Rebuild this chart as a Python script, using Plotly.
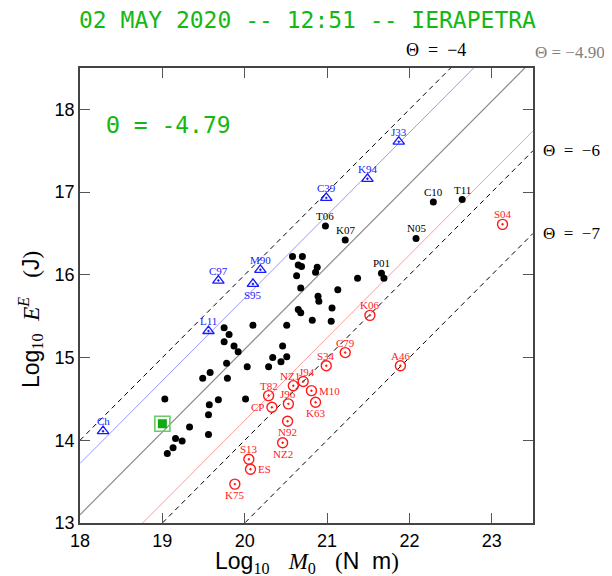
import plotly.graph_objects as go

# ---------------- data ----------------
X_RANGE = [18, 23.5]
Y_RANGE = [13, 18.5]
X_TICKS = [18, 19, 20, 21, 22, 23]
Y_TICKS = [13, 14, 15, 16, 17, 18]

# reference lines: Log10 E = Log10 M0 + Theta
THETA_DASHED = [-4, -6, -7]
THETA_BLUE = -4.28
THETA_GRAY = -4.90
THETA_RED = -5.76

# black events (name '' = unlabeled)
blk_x = [20.58, 20.70, 20.65, 20.69, 20.63, 20.68, 20.65, 20.68, 20.10, 20.51,
         19.75, 19.81, 19.75, 19.87, 19.92, 20.46, 20.34, 20.51, 20.44, 19.78,
         20.03, 20.29, 19.58, 19.49, 19.79, 19.03, 19.68, 20.01, 19.57, 19.56,
         19.33, 19.16, 19.24, 19.56, 19.13, 19.06, 20.88, 20.86, 21.37, 21.13,
         20.89, 20.90, 21.06, 20.82, 21.05, 21.69,
         21.66, 22.29, 22.64, 20.98, 21.22, 22.08]
blk_y = [16.22, 16.22, 16.12, 16.10, 15.99, 15.84, 15.58, 15.54, 15.39, 15.39,
         15.36, 15.28, 15.19, 15.14, 15.07, 15.14, 15.00, 15.01, 14.95, 14.93,
         14.89, 14.89, 14.82, 14.75, 14.75, 14.50, 14.49, 14.50, 14.43, 14.31,
         14.16, 14.02, 13.99, 14.07, 13.91, 13.84, 16.09, 16.03, 15.96, 15.82,
         15.74, 15.68, 15.60, 15.45, 15.44, 15.96,
         16.02, 16.88, 16.91, 16.59, 16.42, 16.44]
blk_name = [''] * 46 + ['P01', 'C10', 'T11', 'T06', 'K07', 'N05']
blk_pos = [''] * 46 + ['n', 'n', 'n', 'n', 'n', 'n']

# blue triangles
blu_x = [19.68, 20.19, 20.10, 19.56, 18.28, 21.87, 21.49, 20.99]
blu_y = [15.93, 16.06, 15.89, 15.32, 14.11, 17.61, 17.16, 16.93]
blu_name = ['C97', 'M90', 'S95', 'L11', 'Ch', 'J33', 'K94', 'C39']
blu_pos = ['n', 'n', 's', 'n', 'n', 'n', 'n', 'n']

# red circles
red_x = [21.52, 21.22, 20.99, 21.89, 20.71, 20.59, 20.29, 20.81, 20.53, 20.33,
         20.86, 20.52, 20.46, 20.05, 20.07, 19.88, 23.13]
red_y = [15.51, 15.06, 14.90, 14.90, 14.71, 14.66, 14.54, 14.60, 14.44, 14.40,
         14.46, 14.23, 13.97, 13.77, 13.65, 13.47, 16.61]
red_name = ['K06', 'C79', 'S34', 'A46', 'J94', 'NZ1', 'T82', 'M10', 'J96', 'CP',
            'K63', 'N92', 'NZ2', 'S13', 'ES', 'K75', 'S04']
red_pos = ['n', 'n', 'n', 'n', 'ne', 'nw', 'n', 'e', 'n', 'w',
           's', 's', 's', 'n', 'e', 's', 'n']

# this event
ev_x = [19.0]
ev_y = [14.2]
EV_THETA = '-4.79'
TITLE = '02 MAY 2020 -- 12:51 -- IERAPETRA'

# ---------------- figure ----------------
GREEN = '#14b814'
SERIF = 'Liberation Serif, Times New Roman, serif'
SANS = 'Liberation Sans, Arial, sans-serif'
MONO = 'DejaVu Sans Mono, monospace'

# plot area geometry (screen pixels, page has 8px body offset)
PL, PR, PT, PB = 80, 533, 68, 523
PW, PH = PR - PL, PB - PT

def px_x(px):
    return (px - PL) / PW

def px_y(py):
    return (PB - py) / PH

fig = go.Figure()

def add_line(theta, color, dash, width=1):
    xs = [X_RANGE[0], X_RANGE[1]]
    ys = [x + theta for x in xs]
    fig.add_trace(go.Scatter(x=xs, y=ys, mode='lines', hoverinfo='skip',
                             line=dict(color=color, width=width, dash=dash),
                             showlegend=False))

for t in THETA_DASHED:
    add_line(t, 'black', '5px,4px', 1)
add_line(THETA_BLUE, '#9a9aff', 'solid', 1)
add_line(THETA_GRAY, '#8c8c8c', 'solid', 1.2)
add_line(THETA_RED, '#ff9a9a', 'solid', 1)

fig.add_trace(go.Scatter(x=blk_x, y=blk_y, mode='markers', showlegend=False,
                         marker=dict(symbol='circle', size=7, color='black')))
fig.add_trace(go.Scatter(x=blu_x, y=blu_y, mode='markers', showlegend=False,
                         marker=dict(symbol='triangle-up-open-dot', size=10,
                                     color='#1a1aff', line=dict(width=1.4, color='#1a1aff'))))
fig.add_trace(go.Scatter(x=red_x, y=red_y, mode='markers', showlegend=False,
                         marker=dict(symbol='circle-open-dot', size=10,
                                     color='#ff1a1a', line=dict(width=1.4, color='#ff1a1a'))))
fig.add_trace(go.Scatter(x=ev_x, y=ev_y, mode='markers', showlegend=False,
                         marker=dict(symbol='square-open', size=15,
                                     color='#66cc66', line=dict(width=1.6, color='#66cc66'))))
fig.add_trace(go.Scatter(x=ev_x, y=ev_y, mode='markers', showlegend=False,
                         marker=dict(symbol='square', size=9, color='#11aa11',
                                     line=dict(width=0))))

OFF = {'n': (0, 10, 'center'), 's': (0, -11, 'center'), 'e': (6, 0, 'left'),
       'w': (-6, 0, 'right'), 'ne': (4, 10, 'center'), 'nw': (-3, 10, 'center')}

ann = []
def add_labels(xs, ys, names, poss, color):
    for x, y, n, p in zip(xs, ys, names, poss):
        if not n:
            continue
        dx, dy, xa = OFF[p]
        ann.append(dict(x=x, y=y, text=n, showarrow=False, xshift=dx, yshift=dy,
                        xanchor=xa, yanchor='middle',
                        font=dict(family=SERIF, size=11, color=color)))

add_labels(blk_x, blk_y, blk_name, blk_pos, 'black')
add_labels(blu_x, blu_y, blu_name, blu_pos, '#1a1aff')
add_labels(red_x, red_y, red_name, red_pos, '#ff1a1a')

SP = '\u2002'
# theta line labels
ann.append(dict(x=px_x(436), y=px_y(50), xref='paper', yref='paper', yanchor='middle',
                xanchor='center', text='Θ' + SP + '=' + SP + '−4', showarrow=False,
                font=dict(family=SERIF, size=18, color='black')))
ann.append(dict(x=px_x(607), y=px_y(53), xref='paper', yref='paper', yanchor='middle',
                xanchor='right', text='Θ = −4.90', showarrow=False,
                font=dict(family=SERIF, size=17, color='#808080')))
for t in [-6, -7]:
    ann.append(dict(x=px_x(541), y=X_RANGE[1] + t, xref='paper', yref='y',
                    xanchor='left', yanchor='middle',
                    text='Θ' + SP + '=' + SP + '−' + str(-t), showarrow=False,
                    font=dict(family=SERIF, size=17, color='black')))

# event theta
ann.append(dict(x=px_x(168), y=px_y(125), xref='paper', yref='paper',
                text='Θ = ' + EV_THETA, showarrow=False,
                xanchor='center', yanchor='middle',
                font=dict(family=MONO, size=23, color=GREEN)))
# title
ann.append(dict(x=px_x(307), y=px_y(20), xref='paper', yref='paper',
                text=TITLE, showarrow=False, xanchor='center', yanchor='middle',
                font=dict(family=MONO, size=23, color=GREEN)))

# axis titles
sf = 'font-family:Liberation Serif'
xt = ('Log<sub><span style="%s">10</span></sub>   '
      '<span style="%s"><i>M</i><sub>0</sub></span>   '
      '<span style="%s">(</span>N  m<span style="%s">)</span>') % (sf, sf, sf, sf)
yt = ('Log<sub><span style="%s">10</span></sub>  '
      '<span style="%s"><i>E</i><sup><i>E</i></sup></span>   '
      '<span style="%s">(</span>J<span style="%s">)</span>') % (sf, sf, sf, sf)
ann.append(dict(x=px_x(307), y=px_y(562), xref='paper', yref='paper', text=xt,
                showarrow=False, xanchor='center', yanchor='middle',
                font=dict(family=SANS, size=23, color='black')))
ann.append(dict(x=px_x(30), y=px_y(320), xref='paper', yref='paper',
                text=yt, showarrow=False, xanchor='center', yanchor='middle', textangle=-90,
                font=dict(family=SANS, size=23, color='black')))

axis_common = dict(showgrid=False, zeroline=False, showline=True, linecolor='#444444',
                   linewidth=1.5, mirror='ticks', ticks='inside', ticklen=10,
                   tickcolor='#555555', tickwidth=1,
                   tickfont=dict(family=SANS, size=18, color='black'))

fig.update_layout(
    width=612, height=576,
    margin=dict(l=PL - 8, r=612 - PR + 8, t=PT - 8, b=576 - PB + 8),
    paper_bgcolor='white', plot_bgcolor='white',
    xaxis=dict(range=X_RANGE, tickvals=X_TICKS, ticktext=[str(v) for v in X_TICKS],
               ticklabelstandoff=1, **axis_common),
    yaxis=dict(range=Y_RANGE, tickvals=Y_TICKS, ticktext=[str(v) for v in Y_TICKS], **axis_common),
    annotations=ann,
    showlegend=False,
)

fig.write_html('out.html')
